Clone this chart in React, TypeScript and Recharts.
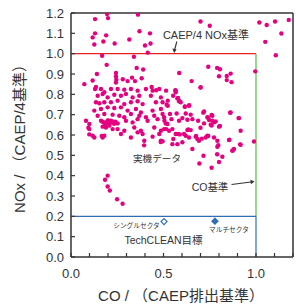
import React from 'react';
import { ScatterChart, Scatter, XAxis, YAxis, ReferenceLine } from 'recharts';

const FONT = '"Liberation Sans", Arial, "Noto Sans CJK JP", sans-serif';
const PINK = '#e4007f';
const BLUE = '#2f6db5';

// CO / NOx ratios of in-service engines
const enginePoints: [number, number][] = [
  [0.195, 1.195], [0.362, 1.192], [0.13, 1.17], [0.2, 1.175], [0.37, 1.11], [0.13, 1.1], [0.117, 1.08],
  [0.19, 1.09], [0.427, 1.1], [0.175, 1.06], [0.236, 1.05], [0.315, 1.07], [0.126, 1.045], [0.4, 1.04],
  [0.43, 1.05], [0.415, 1.005], [0.7, 1.158], [0.75, 1.137], [1.018, 1.153], [1.058, 1.141], [1.103, 1.158],
  [1.177, 1.166], [1.137, 1.099], [1.05, 1.058], [1.107, 0.992], [0.996, 0.913],
  [0.168, 0.99], [0.34, 0.985], [0.193, 0.945], [0.355, 0.93], [0.39, 0.922], [0.585, 0.905], [0.14, 0.9],
  [0.243, 0.905], [0.243, 0.888], [0.245, 0.872], [0.243, 0.858], [0.28, 0.874], [0.306, 0.865], [0.33, 0.882],
  [0.346, 0.865], [0.117, 0.868], [0.072, 0.85], [0.135, 0.836], [0.436, 0.836], [0.382, 0.879], [0.742, 0.936],
  [0.79, 0.93], [0.805, 0.923], [0.863, 0.902], [0.842, 0.89], [0.8, 0.889], [0.842, 0.87], [0.868, 0.86],
  [0.652, 0.865], [0.7, 0.833], [0.46, 0.82], [0.564, 0.82], [0.575, 0.78], [0.585, 0.767],
  [0.13, 0.826], [0.162, 0.826], [0.216, 0.826], [0.252, 0.826], [0.288, 0.823], [0.324, 0.826], [0.405, 0.826],
  [0.477, 0.826], [0.18, 0.81], [0.36, 0.818], [0.441, 0.818], [0.514, 0.818],
  [0.144, 0.793], [0.171, 0.802], [0.198, 0.785], [0.234, 0.798], [0.27, 0.793], [0.297, 0.802], [0.333, 0.785],
  [0.369, 0.793], [0.432, 0.793], [0.486, 0.785], [0.523, 0.769],
  [0.135, 0.761], [0.153, 0.756], [0.18, 0.761], [0.216, 0.761], [0.252, 0.769], [0.288, 0.752], [0.324, 0.761],
  [0.36, 0.766], [0.387, 0.752], [0.459, 0.761], [0.495, 0.761],
  [0.126, 0.72], [0.162, 0.728], [0.198, 0.736], [0.234, 0.733], [0.27, 0.736], [0.306, 0.72], [0.351, 0.728],
  [0.378, 0.711], [0.441, 0.72], [0.486, 0.728], [0.523, 0.744],
  [0.144, 0.695], [0.18, 0.703], [0.225, 0.7], [0.261, 0.695], [0.288, 0.687], [0.324, 0.703], [0.369, 0.695],
  [0.405, 0.687], [0.45, 0.695], [0.495, 0.703],
  [0.081, 0.67], [0.099, 0.654], [0.162, 0.67], [0.18, 0.662], [0.198, 0.67], [0.207, 0.654], [0.216, 0.67],
  [0.225, 0.662], [0.252, 0.657], [0.297, 0.67], [0.333, 0.662], [0.36, 0.678], [0.414, 0.67], [0.468, 0.678],
  [0.505, 0.67],
  [0.099, 0.629], [0.171, 0.641], [0.189, 0.637], [0.207, 0.646], [0.225, 0.629], [0.252, 0.629], [0.288, 0.621],
  [0.342, 0.637], [0.378, 0.621], [0.45, 0.637], [0.486, 0.621], [0.514, 0.629],
  [0.117, 0.596], [0.126, 0.588], [0.171, 0.588], [0.18, 0.596], [0.27, 0.605], [0.324, 0.588], [0.36, 0.613],
  [0.387, 0.605], [0.441, 0.592], [0.477, 0.605], [0.486, 0.572], [0.495, 0.569], [0.396, 0.572],
  [0.17, 0.665], [0.19, 0.658], [0.2, 0.672], [0.21, 0.662], [0.22, 0.668], [0.233, 0.655], [0.185, 0.65],
  [0.24, 0.665], [0.094, 0.636], [0.099, 0.603], [0.166, 0.595],
  [0.566, 0.818], [0.566, 0.81], [0.552, 0.793], [0.579, 0.782], [0.584, 0.766], [0.593, 0.761], [0.517, 0.749],
  [0.615, 0.739], [0.638, 0.744], [0.701, 0.835],
  [0.535, 0.703], [0.571, 0.706], [0.62, 0.706], [0.647, 0.7], [0.719, 0.716], [0.737, 0.687], [0.764, 0.695],
  [0.863, 0.711], [0.908, 0.683],
  [0.503, 0.687], [0.543, 0.678], [0.584, 0.67], [0.602, 0.683], [0.629, 0.675], [0.656, 0.678], [0.687, 0.67],
  [0.719, 0.657], [0.755, 0.651], [0.773, 0.662], [0.782, 0.667], [0.8, 0.641], [0.746, 0.674], [0.764, 0.67],
  [0.512, 0.657], [0.521, 0.654], [0.503, 0.629], [0.53, 0.621], [0.548, 0.629], [0.566, 0.605], [0.579, 0.605],
  [0.611, 0.605], [0.629, 0.624], [0.647, 0.624], [0.62, 0.596], [0.638, 0.588], [0.674, 0.592], [0.683, 0.58],
  [0.692, 0.572], [0.728, 0.588], [0.737, 0.596], [0.773, 0.588], [0.791, 0.572], [0.854, 0.575], [0.917, 0.621],
  [0.548, 0.555], [0.575, 0.555], [0.602, 0.564], [0.656, 0.531], [0.716, 0.498], [0.791, 0.542], [0.818, 0.493],
  [0.872, 0.523], [0.881, 0.531], [0.917, 0.552], [0.989, 0.568],
  [0.616, 0.74], [0.639, 0.746], [0.86, 0.71], [0.906, 0.683], [0.715, 0.71], [0.742, 0.685], [0.76, 0.698],
  [0.805, 0.644], [0.76, 0.647], [0.7, 0.636], [0.634, 0.627], [0.588, 0.603], [0.676, 0.595], [0.707, 0.582],
  [0.742, 0.595], [0.796, 0.55], [0.856, 0.577], [0.914, 0.554], [0.553, 0.58], [0.485, 0.565], [0.395, 0.549],
  [0.79, 0.505], [0.694, 0.46], [0.76, 0.439], [0.8, 0.467], [0.874, 0.524],
  [0.198, 0.4], [0.184, 0.38], [0.198, 0.347], [0.21, 0.327], [0.249, 0.284], [0.279, 0.262],
];

const singleSector = [{ x: 0.503, y: 0.174 }];
const multiSector = [{ x: 0.778, y: 0.176 }];

const noxLimit = 1.0;
const coLimit = 1.0;
const techCleanNox = 0.2;

const xTicks = [0, 0.1, 0.2, 0.3, 0.4, 0.5, 0.6, 0.7, 0.8, 0.9, 1.0, 1.1, 1.2];
const xTickLabels = ['0.0', '', '', '', '', '0.5', '', '', '', '', '1.0', '', ''];
const yTicks = [0, 0.1, 0.2, 0.3, 0.4, 0.5, 0.6, 0.7, 0.8, 0.9, 1.0, 1.1, 1.2];
const yTickLabels = ['0.0', '0.1', '0.2', '0.3', '0.4', '0.5', '0.6', '0.7', '0.8', '0.9', '1.0', '1.1', '1.2'];

const engineData = enginePoints.map(([x, y]) => ({ x, y }));

const XTick = (props: any) => {
  const { x, y, index } = props;
  const label = xTickLabels[index];
  return (
    <g>
      <line x1={x} x2={x} y1={y} y2={y - 4} stroke="#333" strokeWidth={1.2} />
      {label && (
        <text x={x} y={y + 21} textAnchor="middle" fontSize={13} fill="#333" fontFamily={FONT}>
          {label}
        </text>
      )}
    </g>
  );
};

const YTick = (props: any) => {
  const { x, y, index } = props;
  return (
    <g>
      <line x1={x} x2={x + 4} y1={y} y2={y} stroke="#333" strokeWidth={1.2} />
      <text x={x - 7} y={y + 4.5} textAnchor="end" fontSize={13} fill="#333" fontFamily={FONT}>
        {yTickLabels[index]}
      </text>
    </g>
  );
};

const Dot = (props: any) => <circle cx={props.cx} cy={props.cy} r={2.2} fill={PINK} />;

const Diamond = ({ cx, cy, filled }: any) => (
  <polygon
    points={`${cx},${cy - 3} ${cx + 3},${cy} ${cx},${cy + 3} ${cx - 3},${cy}`}
    fill={filled ? BLUE : '#fff'}
    stroke={BLUE}
    strokeWidth={1.2}
  />
);

export default function App() {
  return (
    <div style={{ position: 'absolute', left: 0, top: 0, width: 296, height: 307, background: '#fff', fontFamily: FONT }}>
      <ScatterChart width={296} height={307} margin={{ top: 13, right: 3, bottom: 0, left: 0 }}>
        <XAxis
          type="number"
          dataKey="x"
          domain={[0, 1.2]}
          ticks={xTicks}
          interval={0}
          height={50}
          tickSize={0}
          tickMargin={0}
          tickLine={false}
          tick={<XTick />}
          axisLine={{ stroke: '#333', strokeWidth: 1.5 }}
          allowDataOverflow
        />
        <YAxis
          type="number"
          dataKey="y"
          domain={[0, 1.2]}
          ticks={yTicks}
          interval={0}
          width={71}
          tickSize={0}
          tickMargin={0}
          tickLine={false}
          tick={<YTick />}
          axisLine={{ stroke: '#333', strokeWidth: 1.5 }}
          allowDataOverflow
        />
        <ReferenceLine y={1.2} stroke="#333" strokeWidth={1.5} />
        <ReferenceLine x={1.2} stroke="#333" strokeWidth={1.5} />
        <ReferenceLine segment={[{ x: 0, y: noxLimit }, { x: coLimit, y: noxLimit }]} stroke="#e8221e" strokeWidth={1.2} />
        <ReferenceLine segment={[{ x: coLimit, y: noxLimit }, { x: coLimit, y: techCleanNox }]} stroke="#58b94a" strokeWidth={1.2} />
        <ReferenceLine segment={[{ x: 0, y: techCleanNox }, { x: coLimit, y: techCleanNox }]} stroke={BLUE} strokeWidth={1.2} />
        <ReferenceLine segment={[{ x: coLimit, y: techCleanNox }, { x: coLimit, y: 0 }]} stroke={BLUE} strokeWidth={1.2} />
        <Scatter data={engineData} shape={<Dot />} isAnimationActive={false} />
        <Scatter data={singleSector} shape={(p: any) => <Diamond cx={p.cx} cy={p.cy} filled={false} />} isAnimationActive={false} />
        <Scatter data={multiSector} shape={(p: any) => <Diamond cx={p.cx} cy={p.cy} filled />} isAnimationActive={false} />
      </ScatterChart>
      <svg width={296} height={307} style={{ position: 'absolute', left: 0, top: 0, pointerEvents: 'none' }} fontFamily={FONT}>
        <text x={206} y={39} textAnchor="middle" fontSize={11} fill="#333">CAEP/4 NOx基準</text>
        <line x1={176.8} y1={41.5} x2={174.6} y2={50} stroke="#333" strokeWidth={1.1} />
        <polygon points="174.1,53 172.4,48.6 176.6,49.5" fill="#333" />
        <text x={157} y={162} textAnchor="middle" fontSize={9.6} fill="#333">実機データ</text>
        <text x={210} y={190.5} textAnchor="middle" fontSize={10.5} fill="#333">CO基準</text>
        <line x1={231.5} y1={184.5} x2={251} y2={182} stroke="#333" strokeWidth={1.1} />
        <polygon points="254.5,181.6 250.4,179.8 250.9,184.2" fill="#333" />
        <text x={136.5} y={227.5} textAnchor="middle" fontSize={6.7} fill="#333">シングルセクタ</text>
        <text x={229} y={232} textAnchor="middle" fontSize={6.7} fill="#333">マルチセクタ</text>
        <text x={163.5} y={244} textAnchor="middle" fontSize={10.5} fill="#333">TechCLEAN目標</text>
        <text x={181} y={301} textAnchor="middle" fontSize={15} fill="#333">CO / （CAEP排出基準）</text>
        <text x={19} y={135} textAnchor="middle" fontSize={15} fill="#333" transform="rotate(-90 19 135)" dominantBaseline="central">
          NOx / （CAEP/4基準）
        </text>
      </svg>
    </div>
  );
}
